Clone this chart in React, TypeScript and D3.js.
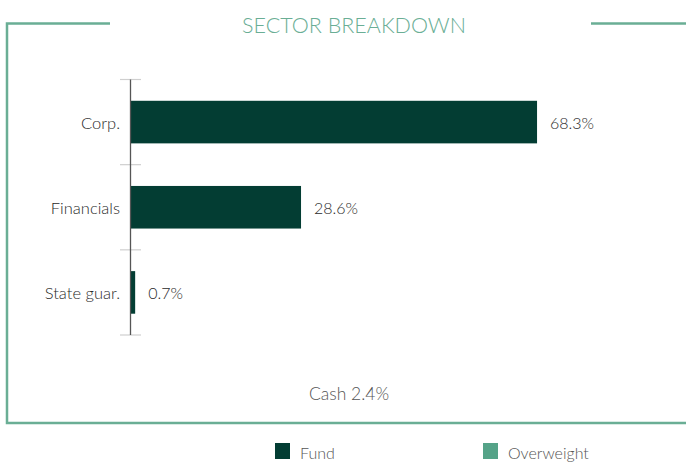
import React from "react";
import * as d3 from "d3";

const categories = ["Corp.", "Financials", "State guar."];
const fundValues = [68.3, 28.6, 0.7];
const valueLabels = ["68.3%", "28.6%", "0.7%"];
const title = "SECTOR BREAKDOWN";
const cashLabel = "Cash 2.4%";
const legendItems = ["Fund", "Overweight"];

const W = 686;
const H = 464;
const FRAME = "#6aae95";
const FUND = "#033d33";
const OVER = "#55a388";
const FONT = "Lato, 'Open Sans', sans-serif";

export default function App() {
  const y = d3.scaleBand<string>().domain(categories).range([79.5, 335]).paddingInner(0.5).paddingOuter(0.25);
  const x = d3.scaleLinear().domain([0, 100]).range([131, 725.5]);
  const step = y.step();
  const start = 79.5;
  const tickYs = d3.range(categories.length + 1).map((i) => start + i * step);
  const legendColors = [FUND, OVER];
  const legendX = [275, 483];

  return (
    <svg width={W} height={H} style={{ position: "absolute", left: 0, top: 0, display: "block" }}>
      <rect width={W} height={H} fill="#fff" />
      {/* frame */}
      <path d={`M110,23.5 H7 V423 H686`} fill="none" stroke={FRAME} strokeWidth={2.5} />
      <line x1={591} x2={686} y1={23.5} y2={23.5} stroke={FRAME} strokeWidth={2.5} />
      <text x={354} y={32.5} textAnchor="middle" fontFamily={FONT} fontWeight={300} fontSize={21.5} fill={FRAME}>
        {title}
      </text>
      {/* ticks */}
      {tickYs.map((ty, i) => (
        <line key={i} x1={120} x2={141} y1={ty} y2={ty} stroke="#cfcfcf" strokeWidth={1.2} />
      ))}
      {/* bars */}
      {categories.map((c, i) => (
        <g key={c}>
          <rect x={x(0)} y={y(c)} width={x(fundValues[i]) - x(0)} height={y.bandwidth()} fill={FUND} />
          <text x={x(fundValues[i]) + 13} y={(y(c) as number) + y.bandwidth() / 2 + 7} fontFamily={FONT} fontWeight={300} fontSize={16} fill="#2a2a2a">
            {valueLabels[i]}
          </text>
          <text x={120} y={(y(c) as number) + y.bandwidth() / 2 + 7} textAnchor="end" fontFamily={FONT} fontWeight={300} fontSize={16.5} fill="#2a2a2a">
            {c}
          </text>
        </g>
      ))}
      <line x1={130.5} x2={130.5} y1={79.5} y2={335} stroke="#555" strokeWidth={1.3} />
      <text x={349} y={400} textAnchor="middle" fontFamily={FONT} fontWeight={300} fontSize={17.5} fill="#555">
        {cashLabel}
      </text>
      {/* legend */}
      {legendItems.map((l, i) => (
        <g key={l}>
          <rect x={legendX[i]} y={443} width={15} height={16} fill={legendColors[i]} />
          <text x={legendX[i] + 25} y={459} fontFamily={FONT} fontWeight={300} fontSize={16} fill="#555">
            {l}
          </text>
        </g>
      ))}
    </svg>
  );
}
